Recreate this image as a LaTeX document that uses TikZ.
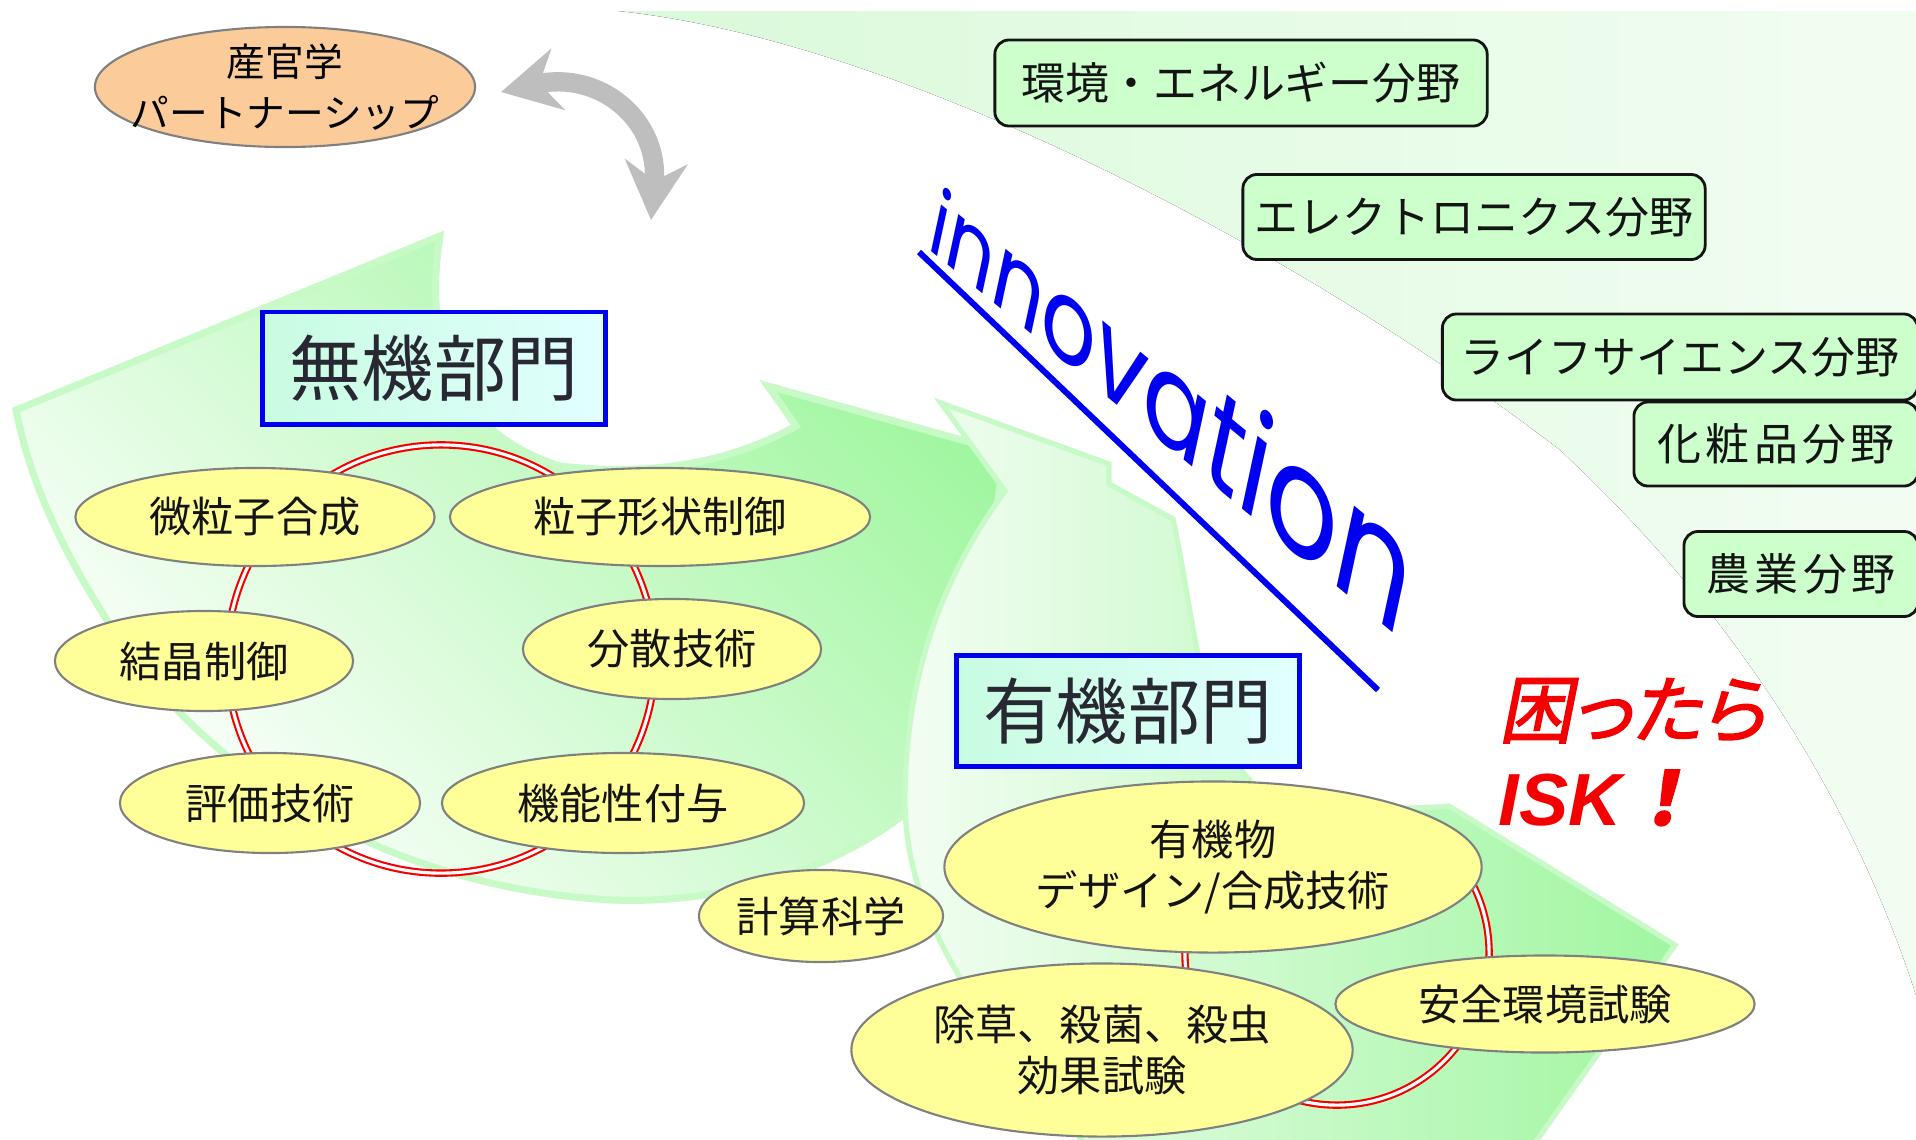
\documentclass[tikz,border=0pt]{standalone}
\usepackage{fontspec}
\setmainfont{Noto Sans CJK JP}
\newfontfamily\inofont{Poppins}
\newfontfamily\redjp[FakeSlant=0.2,FakeBold=2,RawFeature=+palt]{Noto Sans CJK JP}
\newfontfamily\redlatin{Liberation Sans}
\newcommand\inoletter[2]{{\fontsize{#1}{#1}\selectfont #2}}
\usepackage{tikz}
\usetikzlibrary{arrows.meta, shapes.geometric, positioning}
\definecolor{mydark}{RGB}{20,20,20}
\definecolor{mytitle}{RGB}{40,40,50}
\definecolor{mygray}{RGB}{128,128,128}
\definecolor{myblue}{RGB}{0,0,240}
\definecolor{myred}{RGB}{245,0,0}
\definecolor{myyellow}{RGB}{255,255,153}
\definecolor{mypeach}{RGB}{251,203,153}
\definecolor{myfield}{RGB}{204,255,204}
\definecolor{arrowgray}{RGB}{190,190,190}
\definecolor{swpale}{RGB}{242,253,242}
\definecolor{swbright}{RGB}{160,246,160}
\definecolor{swedge}{RGB}{200,250,200}
\definecolor{bgleft}{RGB}{218,249,218}
\definecolor{bgright}{RGB}{242,253,242}
\definecolor{hdrmint}{RGB}{200,252,225}
\definecolor{hdrcyan}{RGB}{225,255,255}
\tikzset{
  topic/.style={ellipse, draw=mygray, fill=myyellow, line width=0.6pt,
    inner sep=0pt, align=center, text=mydark},
  dept/.style={rectangle, draw=myblue, line width=1.4pt, left color=hdrmint,
    right color=hdrcyan, text=mytitle, font=\fontsize{20.5}{24}\selectfont},
  field/.style={rectangle, rounded corners=4pt, draw=mydark, fill=myfield,
    line width=0.8pt, text=mydark, font=\fontsize{12.5}{15}\selectfont},
  ring/.style={draw=myred, double=white, line width=0.6pt, double distance=0.9pt},
  link/.style={{Stealth[width=0.62cm,length=0.58cm]}-{Stealth[width=0.62cm,length=0.58cm]},
    line width=5.5pt, draw=arrowgray}
}

\begin{document}
\begin{tikzpicture}[x=0.01cm, y=-0.01cm, every node/.style={font=\fontsize{12}{14.5}\selectfont}]
  \path[fill=white] (0,0) rectangle (1916,1139);
  \useasboundingbox (0,0) rectangle (1916,1139);

  % Background swooshes
  \fill[left color=bgleft, right color=bgright] (618,11) -- (1916,11) -- (1916,995)
    .. controls (1840,760) and (1700,580) .. (1560,450)
    .. controls (1300,250) and (900,40) .. (618,11) -- cycle;
  \path[draw=swedge, line width=2pt, top color=swbright, bottom color=white, shading angle=-45]
    (16,410) -- (440,236) .. controls (425,330) and (445,430) .. (560,466)
    .. controls (640,475) and (720,468) .. (796,426) -- (768,386) -- (1005,452)
    -- (960,760) .. controls (880,860) and (740,905) .. (612,900)
    .. controls (420,890) and (230,800) .. (120,640)
    .. controls (60,550) and (30,480) .. (16,410) -- cycle;
  \path[draw=swedge, line width=1.5pt, left color=swpale, right color=swbright]
    (941,403) -- (1109,464) -- (1109,484) -- (1173,519)
    .. controls (1195,620) and (1200,740) .. (1260,790)
    .. controls (1330,810) and (1400,810) .. (1449,806) -- (1675,945) -- (1530,1150)
    -- (1090,1150) .. controls (980,1020) and (905,920) .. (905,800)
    .. controls (905,680) and (940,580) .. (1005,491) -- cycle;

  % Rings
  \draw[ring] (441,659) circle[radius=2.14cm];
  \draw[ring] (1337,953) circle[radius=1.52cm];

  % Partnership
  \node[ellipse, draw=mygray, fill=mypeach, line width=0.6pt, inner xsep=-0.22cm, inner ysep=-0.02cm,
    align=center, minimum width=3.8cm, minimum height=1.2cm, font=\fontsize{11}{14.5}\selectfont]
    (partner) at (285,87) {産官学\\パートナーシップ};
  \coordinate (link west) at (501,92);
  \coordinate (link south) at (651,220);
  \draw[link] (link west) .. controls (600,70) and (660,120) .. (link south);

  % Departments
  \node[dept, minimum width=3.43cm, minimum height=1.12cm] (inorg) at (434,368) {無機部門};
  \node[dept, minimum width=3.42cm, minimum height=1.11cm] (org) at (1128,711) {有機部門};

  % Inorganic topics
  \node[topic, minimum width=3.59cm, minimum height=0.98cm] (synth) at (255,517) {微粒子合成};
  \node[topic, minimum width=4.20cm, minimum height=0.98cm] (shape) at (660,517) {粒子形状制御};
  \node[topic, minimum width=2.98cm, minimum height=1.00cm] (cryst) at (204,661) {結晶制御};
  \node[topic, minimum width=2.98cm, minimum height=1.00cm] (disp) at (672,649) {分散技術};
  \node[topic, minimum width=3.00cm, minimum height=1.00cm] (eval) at (270,803) {評価技術};
  \node[topic, minimum width=3.62cm, minimum height=1.00cm] (func) at (623,803) {機能性付与};
  \node[topic, minimum width=2.44cm, minimum height=0.92cm] (calc) at (821,916) {計算科学};

  % Organic topics
  \node[topic, minimum width=5.37cm, minimum height=1.71cm] (design) at (1213,867) {有機物\\デザイン/合成技術};
  \node[topic, minimum width=5.01cm, minimum height=1.73cm] (bio) at (1102,1050) {除草、殺菌、殺虫\\効果試験};
  \node[topic, minimum width=4.19cm, minimum height=0.97cm] (safety) at (1545,1004) {安全環境試験};

  % Fields
  \node[field, minimum width=4.92cm, minimum height=0.86cm] (env) at (1241,83) {環境・エネルギー分野};
  \node[field, minimum width=4.62cm, minimum height=0.85cm] (elec) at (1474,217) {エレクトロニクス分野};
  \node[field, minimum width=4.75cm, minimum height=0.86cm] (life) at (1680,357) {ライフサイエンス分野};
  \node[field, minimum width=2.84cm, minimum height=0.84cm] (cosm) at (1776,444)
    {\addfontfeatures{LetterSpace=10}化粧品分野};
  \node[field, minimum width=2.34cm, minimum height=0.85cm] (agri) at (1801,574)
    {\addfontfeatures{LetterSpace=10}農業分野};

  % Innovation
  \begin{scope}[shift={(926,247)}, rotate=-39.6, xslant=-0.52, xscale=1.1, transform shape]
    \node[font=\inofont, text=myblue, anchor=base west, inner sep=0pt] (innov) at (0,0)
      {\inoletter{22}{i}\inoletter{23.8}{n}\inoletter{25.5}{n}\inoletter{27.3}{o}\inoletter{29}{v}%
       \inoletter{30.8}{a}\inoletter{32.5}{t}\inoletter{34.3}{i}\inoletter{36}{o}\inoletter{38}{n}};
  \end{scope}
  \coordinate (ul start) at (919,252);
  \coordinate (ul end) at (1378,690);
  \draw[myblue, line width=1.7pt] (ul start) -- (ul end);

  % Slogan
  \node[anchor=base west, inner sep=0pt, text=myred, font=\redjp\fontsize{21}{24}\selectfont]
    (trouble) at (1498,737) {困ったら};
  \node[anchor=base west, inner sep=0pt, text=myred,
    font=\redlatin\bfseries\itshape\fontsize{21}{24}\selectfont]
    (isk) at (1498,825) {ISK\hspace{6pt}{\redjp ！}};
\end{tikzpicture}
\end{document}
